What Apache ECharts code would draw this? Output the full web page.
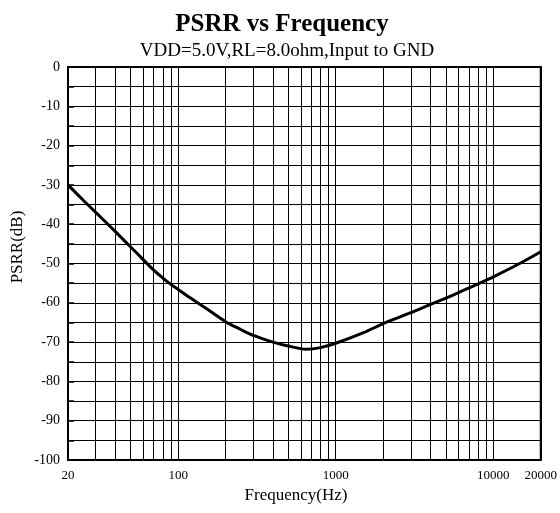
<!DOCTYPE html>
<html><head><meta charset="utf-8">
<script src="https://cdn.jsdelivr.net/npm/echarts@6/dist/echarts.min.js"></script>
<style>html,body{margin:0;padding:0;background:#fff}#c{width:560px;height:513px}</style>
</head><body><div id="c"></div>
<script>
const freqs = [20,25,30,40,50,60,70,80,90,100,120,150,200,250,300,400,500,650,800,1000,1500,2000,3000,4000,5000,6500,8000,10000,15000,20000];
const psrr  = [-30,-33.9,-37.0,-41.9,-45.8,-49.0,-51.7,-53.7,-55.3,-56.6,-58.8,-61.4,-64.8,-66.8,-68.3,-70.0,-71.0,-71.8,-71.4,-70.3,-67.6,-65.3,-62.5,-60.4,-58.8,-56.8,-55.2,-53.4,-49.8,-47];
const gridFreqs = [30,40,50,60,70,80,90,200,300,400,500,600,700,800,900,2000,3000,4000,5000,6000,7000,8000,9000];
const titleText = 'PSRR vs Frequency';
const subText = 'VDD=5.0V,RL=8.0ohm,Input to GND';
const xName = 'Frequency(Hz)';
const yName = 'PSRR(dB)';

const font = '"Liberation Serif","Times New Roman",serif';
const chart = echarts.init(document.getElementById('c'), null, {renderer:'canvas'});
chart.setOption({
  animation:false,
  backgroundColor:'#fff',
  title:[
    {text:titleText, left:277, top:7, textAlign:'center',
     textStyle:{fontFamily:font, fontWeight:'bold', fontSize:25, color:'#000'}},
    {text:subText, left:282, top:37, textAlign:'center',
     textStyle:{fontFamily:font, fontWeight:'normal', fontSize:19, color:'#000'}}
  ],
  grid:{left:68, right:15, top:67, bottom:53, show:true, borderColor:'#000', borderWidth:2, backgroundColor:'transparent'},
  xAxis:{type:'log', logBase:10, min:20, max:20000,
    axisLine:{show:true, lineStyle:{color:'#000', width:2}},
    axisTick:{show:false},
    axisLabel:{fontFamily:font, fontSize:13, color:'#000', margin:9, showMinLabel:true, showMaxLabel:true,
      formatter:v=>String(Math.round(v))},
    splitLine:{show:true, lineStyle:{color:'#000', width:1}}
  },
  yAxis:{type:'value', min:-100, max:0, interval:10,
    axisLine:{show:true, lineStyle:{color:'#000', width:2}},
    axisTick:{show:true, inside:true, length:6, lineStyle:{color:'#000', width:1.5}},
    minorTick:{show:true, splitNumber:2, length:6, lineStyle:{color:'#000', width:1.5}},
    axisLabel:{fontFamily:font, fontSize:14, color:'#000', margin:8},
    splitLine:{show:true, lineStyle:{color:'#000', width:1}},
    minorSplitLine:{show:true, lineStyle:{color:'#000', width:1}}
  },
  graphic:[
    {type:'text', x:296, y:496, style:{text:xName, align:'center', verticalAlign:'middle', font:'17px '+font, fill:'#000'}},
    {type:'text', rotation:Math.PI/2, x:18, y:247, style:{text:yName, align:'center', verticalAlign:'middle', font:'17px '+font, fill:'#000'}}
  ],
  series:[{
    type:'line', data:freqs.map((f,i)=>[f,psrr[i]]), smooth:0.3, symbol:'none',
    lineStyle:{color:'#000', width:3},
    markLine:{silent:true, symbol:['none','none'], label:{show:false},
      lineStyle:{color:'#000', width:1, type:'solid'},
      data:gridFreqs.map(f=>({xAxis:f}))}
  }]
});
</script></body></html>
